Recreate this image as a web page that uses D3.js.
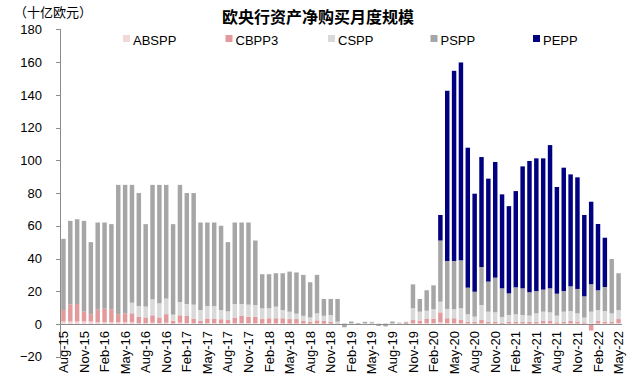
<!DOCTYPE html>
<html>
<head>
<meta charset="utf-8">
<script src="https://cdn.jsdelivr.net/npm/d3@7"></script>
<style>
body { margin: 0; background: white; }
svg text { font-family: "Liberation Sans", Arial, "Noto Sans CJK SC", sans-serif; }
.axis path, .axis line { stroke: #8c8c8c; shape-rendering: crispEdges; }
.axis text { font-size: 13px; fill: black; }
</style>
</head>
<body>
<script>
// monthly net purchases, bn EUR, Aug-15 .. May-22
const months = [
  "Aug-15","Sep-15","Oct-15","Nov-15","Dec-15",
  "Jan-16","Feb-16","Mar-16","Apr-16","May-16","Jun-16","Jul-16","Aug-16","Sep-16","Oct-16","Nov-16","Dec-16",
  "Jan-17","Feb-17","Mar-17","Apr-17","May-17","Jun-17","Jul-17","Aug-17","Sep-17","Oct-17","Nov-17","Dec-17",
  "Jan-18","Feb-18","Mar-18","Apr-18","May-18","Jun-18","Jul-18","Aug-18","Sep-18","Oct-18","Nov-18","Dec-18",
  "Jan-19","Feb-19","Mar-19","Apr-19","May-19","Jun-19","Jul-19","Aug-19","Sep-19","Oct-19","Nov-19","Dec-19",
  "Jan-20","Feb-20","Mar-20","Apr-20","May-20","Jun-20","Jul-20","Aug-20","Sep-20","Oct-20","Nov-20","Dec-20",
  "Jan-21","Feb-21","Mar-21","Apr-21","May-21","Jun-21","Jul-21","Aug-21","Sep-21","Oct-21","Nov-21","Dec-21",
  "Jan-22","Feb-22","Mar-22","Apr-22","May-22"
];

const absp = [
  1.5,1.5,1.5,1.5,1.5,
  1,1,1,1,1,1,0.5,0.5,0.8,0.5,0.8,0.3,
  0.8,0.6,0.5,0.3,0.5,0.5,0.4,0.4,0.5,0.6,0.5,0.5,
  0.3,0.4,0.4,0.4,0.3,0.3,0.3,0.2,0.3,0.2,0.2,0.1,
  0,0,0,0,0,0,0,0,0,0,0.4,0.3,
  0.5,0.5,1,0.5,0.5,0.4,0.3,0.3,0.4,0.3,0.3,0.2,
  0.3,0.3,0.3,0.2,0.3,0.3,0.3,0.2,0.3,0.3,0.3,0.2,
  0.3,0.3,0.3,0.3,0.5
];
const cbpp3 = [
  7,10.5,10.7,6,4.5,
  8,8.4,8,5,5.5,5.5,4,3.5,4.5,3.5,5.2,1.7,
  4.5,4.3,2.8,1.7,2.8,2.8,2.5,2,3.2,4.3,4,4,
  2.7,3.1,3.1,3.1,2.7,2.7,1.5,1.2,1.9,1.6,1.2,0.3,
  0,0,0,0,0.3,0,0,0,0,0.5,2,1.7,
  2.8,2.8,6.1,3,3,2,1.1,1.1,2,1.1,1.1,0.6,
  1.1,1.1,1.1,1,1.1,1.5,1.5,0.8,1.1,1.5,1.1,0.8,
  -4,1.5,1.1,1.1,2.5
];
const cspp = [
  0,0,0,0,0,
  0,0,0,0,0,6.5,6.5,6.6,9.7,8.6,9.5,3.7,
  8.1,7.3,8.5,6.5,7.7,7.7,5.6,5.3,8.5,7.3,7.3,7.1,
  6.6,6.1,7.1,5,4.5,3.3,3.2,2.6,4.3,3.2,4.1,1,
  0.6,0.5,0.2,0.5,0.5,0.3,0.5,0.5,0.4,0.3,7.2,5.5,
  4.8,5.7,6.5,5.7,5.5,7.2,4.5,3.1,9.2,6.1,5.7,3.5,
  4.1,4.5,4.1,3.9,5.1,5.7,5.3,4.1,6.1,6.1,5.1,2.9,
  7.2,6.7,6.5,5.1,5.5
];
const pspp = [
  43.5,51,51.8,55.5,44,
  53,52.6,52,79,78.5,72,69,50.4,70,72.4,69.5,55.3,
  71.6,67.8,68.2,53.5,51,51,51.5,42.3,49.8,49.8,50.2,39.4,
  20.8,20.8,20.4,22.5,24.5,25.2,25,21.5,23.5,10.3,9.8,13.9,
  -2,1,0.4,0.8,0.5,-1.2,-1.5,1,0.4,0.5,14.6,7.8,
  12.5,14.6,37.4,29.3,29.5,29.3,16.3,15.2,23.2,18.4,21.2,17.5,
  13.2,16.5,16.3,14.3,13.6,13.5,14.7,13.4,12.6,15.1,14.9,13,
  16.8,12.1,14.7,33.2,22.5
];
const pepp = [
  0,0,0,0,0,
  0,0,0,0,0,0,0,0,0,0,0,0,
  0,0,0,0,0,0,0,0,0,0,0,0,
  0,0,0,0,0,0,0,0,0,0,0,0,
  0,0,0,0,0,0,0,0,0,0,0,0,
  0,0,15.6,104,116.2,120.9,85.5,59.9,67.2,62.9,70.7,57.4,
  53.3,58.8,74.5,80.2,81.1,80.2,87.5,65.2,75.4,68.4,68.2,49.7,
  50.4,40.5,30.1,0,0
];

const keys = ["ABSPP", "CBPP3", "CSPP", "PSPP", "PEPP"];
const colors = ["#f2d7d7", "#e39a9c", "#d9d9d9", "#a6a6a6", "#000080"];
const yTicks = [-20, 0, 20, 40, 60, 80, 100, 120, 140, 160, 180];

const table = months.map((m, i) => ({
  month: m, ABSPP: absp[i], CBPP3: cbpp3[i], CSPP: cspp[i], PSPP: pspp[i], PEPP: pepp[i]
}));

const svg = d3.select("body").append("svg")
  .attr("width", 640).attr("height", 384);

const x = d3.scaleBand().domain(months).range([60, 622]).paddingInner(0.35).paddingOuter(0.175);
const y = d3.scaleLinear().domain([-20, 180]).range([356.7, 29.4]);

const series = d3.stack().keys(keys).offset(d3.stackOffsetDiverging)(table);

svg.append("g").selectAll("g")
  .data(series)
  .join("g")
  .attr("fill", (d, i) => colors[i])
  .selectAll("rect")
  .data(d => d)
  .join("rect")
  .attr("x", d => x(d.data.month))
  .attr("width", x.bandwidth())
  .attr("y", d => y(Math.max(d[0], d[1])))
  .attr("height", d => Math.abs(y(d[0]) - y(d[1])));

// y axis
const yAxis = svg.append("g")
  .attr("class", "axis")
  .attr("transform", "translate(60,0)")
  .call(d3.axisLeft(y).tickValues(yTicks).tickSize(4).tickPadding(14));
yAxis.selectAll("text").attr("fill", d => d < 0 ? "#e8201a" : "black");

// x axis at zero
const xAxis = svg.append("g")
  .attr("class", "axis")
  .attr("transform", `translate(0,${y(0)})`)
  .call(d3.axisBottom(x).tickValues(months.filter((m, i) => i % 3 === 0)).tickSize(0).tickSizeOuter(0));
xAxis.select(".domain").attr("d", `M60,0.5H622`);
xAxis.selectAll("text")
  .attr("transform", "rotate(-90)")
  .attr("text-anchor", "end")
  .attr("x", -7)
  .attr("y", 0)
  .attr("dy", "0.35em");

// title and unit
svg.append("text")
  .attr("x", 318).attr("y", 23)
  .attr("text-anchor", "middle")
  .style("font-family", "'Noto Sans CJK SC', sans-serif")
  .style("font-size", "16px").style("font-weight", "bold")
  .text("欧央行资产净购买月度规模");

svg.append("text")
  .attr("x", 14).attr("y", 17)
  .style("font-family", "'Noto Sans CJK SC', sans-serif")
  .style("font-size", "13px")
  .text("（十亿欧元）");

// legend
const legend = svg.append("g").selectAll("g")
  .data(keys)
  .join("g")
  .attr("transform", (d, i) => `translate(${123 + i * 102.5},40)`);
legend.append("rect")
  .attr("x", 0).attr("y", -5).attr("width", 7).attr("height", 7)
  .attr("fill", (d, i) => colors[i]);
legend.append("text")
  .attr("x", 10).attr("y", 0).attr("dy", "0.35em")
  .style("font-size", "13px")
  .text(d => d);
</script>
</body>
</html>
